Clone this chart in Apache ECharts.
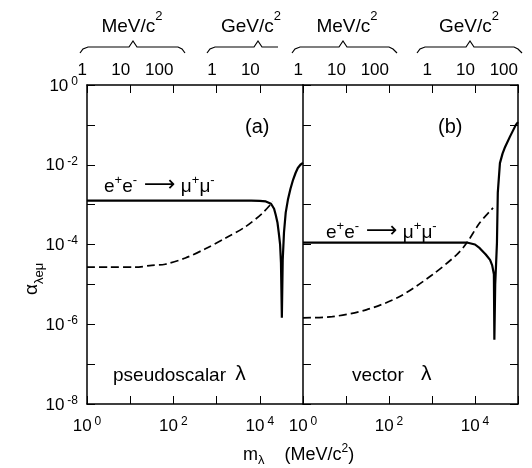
<!DOCTYPE html>
<html>
<head>
<meta charset="utf-8">
<script src="https://cdn.jsdelivr.net/npm/echarts@6/dist/echarts.min.js"></script>
<style>html,body{margin:0;padding:0;background:#fff}#c{width:532px;height:468px}</style>
</head>
<body>
<div id="c"></div>
<script>
// ---- data (x in MeV/c^2, y = alpha) ----
const aSolidX = [1, 10, 100, 1000, 6300, 10000, 13800, 18200, 21400, 23400, 25700, 27500, 29500, 30900, 32400, 33900, 36300, 39800, 44700, 51300, 58900, 67600, 75900, 87100, 100000];
const aSolidY = [1.26e-3, 1.26e-3, 1.26e-3, 1.26e-3, 1.26e-3, 1.245e-3, 1.2e-3, 1.05e-3, 7.9e-4, 5.5e-4, 3.5e-4, 1.95e-4, 1.0e-4, 3.5e-5, 1.45e-6, 4.0e-5, 2.0e-4, 6.3e-4, 1.32e-3, 2.5e-3, 4.2e-3, 6.3e-3, 8.3e-3, 1.0e-2, 1.12e-2];
const aDashX = [1, 3.2, 13.2, 31.6, 64.6, 190, 550, 1620, 4680, 11700, 20000];
const aDashY = [2.7e-5, 2.7e-5, 2.7e-5, 3.0e-5, 3.2e-5, 4.6e-5, 7.8e-5, 1.45e-4, 2.8e-4, 6.2e-4, 1.17e-3];
const bSolidX = [1, 10, 100, 1000, 6460, 10000, 12900, 17800, 22400, 25100, 27500, 28200, 29500, 30900, 32400, 33900, 38000, 43700, 50100, 64600, 89100, 100000];
const bSolidY = [1.12e-4, 1.12e-4, 1.12e-4, 1.12e-4, 1.12e-4, 1.0e-4, 8.1e-5, 5.6e-5, 4.1e-5, 3.0e-5, 1.8e-5, 4.1e-7, 1.0e-5, 3.2e-5, 1.1e-4, 2.0e-3, 1.1e-2, 1.9e-2, 2.8e-2, 5.0e-2, 0.1, 0.117];
const bDashX = [1, 4.8, 29.5, 174, 1020, 3720, 6460, 12900, 26300];
const bDashY = [1.45e-6, 1.55e-6, 2.3e-6, 4.9e-6, 1.74e-5, 5.5e-5, 1.1e-4, 3.5e-4, 8.3e-4];

// tick labels
const bottomLabelExps = [0, 2, 4];
const leftLabelExps = [0, -2, -4, -6, -8];
const topLabelsA = ['1', '10', '100', '1', '10', ''];
const topLabelsB = ['1', '10', '100', '1', '10', '100'];

const FONT = 'Liberation Sans, Arial, Helvetica, sans-serif';
const zip = (xs, ys) => xs.map((x, i) => [x, ys[i]]);
const ex = v => Math.round(Math.log10(v));

const powRich = {
  b: {fontSize: 17, fontFamily: FONT, color: '#000', lineHeight: 19, verticalAlign: 'bottom'},
  s: {fontSize: 12, fontFamily: FONT, color: '#000', lineHeight: 12, verticalAlign: 'top', padding: [0, 0, 0, 3]}
};
function powLabel(list) {
  return v => { const e = ex(v); return list.indexOf(e) >= 0 ? '{b|10}{s|' + e + '}' : ''; };
}
const lineStyle = {color: '#000', width: 1.5};
const tick = {show: true, inside: true, length: 8, lineStyle: {color: '#000', width: 1}};

function xBottom(g) {
  return {type: 'log', logBase: 10, min: 1, max: 1e5, gridIndex: g, position: 'bottom',
    splitNumber: 5, splitLine: {show: false},
    axisLine: {show: true, lineStyle}, axisTick: tick,
    axisLabel: {formatter: powLabel(bottomLabelExps), rich: powRich, margin: 12, showMaxLabel: true, showMinLabel: true}};
}
function xTop(g, labels) {
  return {type: 'log', logBase: 10, min: 1, max: 1e5, gridIndex: g, position: 'top',
    splitNumber: 5, splitLine: {show: false},
    axisLine: {show: true, lineStyle}, axisTick: tick,
    axisLabel: {formatter: v => labels[ex(v)] || '', fontSize: 17, fontFamily: FONT, color: '#000', margin: 6, align: 'right'}};
}
function yAx(g, pos, labels, ticks, line) {
  return {type: 'log', logBase: 10, min: 1e-8, max: 1, gridIndex: g, position: pos,
    splitNumber: 8, splitLine: {show: false},
    axisLine: {show: line, lineStyle}, axisTick: ticks ? tick : {show: false},
    axisLabel: labels ? {formatter: powLabel(leftLabelExps), rich: powRich, margin: 9} : {show: false}};
}

const braces = [
  [[80,53],[83,49],[88,47],[129,47],[133,41],[137,47],[178,47],[182,49],[185,53]],
  [[207,53],[210,49],[215,47],[254,47],[258,41],[262,47],[278,47]],
  [[292,53],[295,49],[300,47],[339,47],[343,41],[347,47],[389,47],[393,49],[397,53]],
  [[417,53],[420,49],[425,47],[466,47],[470,41],[474,47],[514,47],[518,49],[522,53]]
];
const supRich = {
  n: {fontSize: 19, fontFamily: FONT, fill: '#000', lineHeight: 26, verticalAlign: 'bottom'},
  p: {fontSize: 13, fontFamily: FONT, fill: '#000', lineHeight: 13, verticalAlign: 'top'}
};
const unitText = (x, u) => ({type: 'text', x: x, y: 10, style: {text: '{n|' + u + 'eV/c}{p|2}', rich: supRich, align: 'center', fill: '#000'}});
const annRich = {
  n: {fontSize: 19, fontFamily: FONT, fill: '#000', lineHeight: 22, verticalAlign: 'bottom'},
  p: {fontSize: 13, fontFamily: FONT, fill: '#000', lineHeight: 13, verticalAlign: 'top'},
  a: {fontSize: 22, fontFamily: 'DejaVu Sans, sans-serif', fill: '#000', lineHeight: 22, verticalAlign: 'bottom'}
};
const reaction = (x, y) => ({type: 'text', x: x, y: y, style: {text: '{n|e}{p|+}{n|e}{p|-}{a| \u27F6}{n| \u03BC}{p|+}{n|\u03BC}{p|-}', rich: annRich}});
const lamRich = pad => ({
  n: {fontSize: 19, fontFamily: FONT, fill: '#000', lineHeight: 24, verticalAlign: 'bottom'},
  l: {fontSize: 21, fontFamily: FONT, fill: '#000', lineHeight: 24, verticalAlign: 'bottom', padding: [0, 0, 0, pad]}
});

const option = {
  animation: false,
  backgroundColor: '#fff',
  grid: [
    {left: 87, top: 85, width: 216, height: 319},
    {left: 303, top: 85, width: 215, height: 319}
  ],
  xAxis: [xBottom(0), xTop(0, topLabelsA), xBottom(1), xTop(1, topLabelsB)],
  yAxis: [yAx(0, 'left', true, true, true), yAx(0, 'right', false, false, false), yAx(1, 'left', false, true, true), yAx(1, 'right', false, true, true)],
  series: [
    {type: 'line', xAxisIndex: 0, yAxisIndex: 0, data: zip(aSolidX, aSolidY), showSymbol: false, lineStyle: {color: '#000', width: 2.2}},
    {type: 'line', xAxisIndex: 0, yAxisIndex: 0, data: zip(aDashX, aDashY), showSymbol: false, smooth: 0.3, lineStyle: {color: '#000', width: 1.7, type: [8, 4]}},
    {type: 'line', xAxisIndex: 2, yAxisIndex: 2, data: zip(bSolidX, bSolidY), showSymbol: false, lineStyle: {color: '#000', width: 2.2}},
    {type: 'line', xAxisIndex: 2, yAxisIndex: 2, data: zip(bDashX, bDashY), showSymbol: false, smooth: 0.3, lineStyle: {color: '#000', width: 1.7, type: [8, 4]}}
  ],
  graphic: [
    ...braces.map(p => ({type: 'polyline', shape: {points: p}, style: {stroke: '#000', lineWidth: 1.2, fill: null}})),
    unitText(132, 'M'), unitText(251, 'G'), unitText(347, 'M'), unitText(469, 'G'),
    {type: 'text', x: 245, y: 117, style: {text: '(a)', font: '20px ' + FONT, fill: '#000'}},
    {type: 'text', x: 438, y: 117, style: {text: '(b)', font: '20px ' + FONT, fill: '#000'}},
    reaction(104, 174),
    reaction(326, 220),
    {type: 'text', x: 113, y: 361, style: {text: '{n|pseudoscalar }{l|\u03BB}', rich: lamRich(4)}},
    {type: 'text', x: 352, y: 361, style: {text: '{n|vector }{l|\u03BB}', rich: lamRich(12)}},
    {type: 'text', x: 243, y: 443, style: {text: '{n|m}{q|\u03BB}{n|    (MeV/c}{p|2}{n|)}', rich: {
      n: {fontSize: 18, fontFamily: FONT, fill: '#000', lineHeight: 24, verticalAlign: 'middle'},
      q: {fontSize: 13, fontFamily: FONT, fill: '#000', lineHeight: 13, verticalAlign: 'bottom'},
      p: {fontSize: 12, fontFamily: FONT, fill: '#000', lineHeight: 12, verticalAlign: 'top'}}}},
    {type: 'text', x: 22, y: 295, rotation: Math.PI / 2, style: {text: '{n|\u03B1}{q|\u03BBe\u03BC}', rich: {
      n: {fontSize: 19, fontFamily: FONT, fill: '#000', lineHeight: 24, verticalAlign: 'top'},
      q: {fontSize: 13, fontFamily: FONT, fill: '#000', lineHeight: 13, verticalAlign: 'bottom'}}}}
  ]
};
const chart = echarts.init(document.getElementById('c'), null, {renderer: 'canvas'});
chart.setOption(option);
</script>
</body>
</html>
